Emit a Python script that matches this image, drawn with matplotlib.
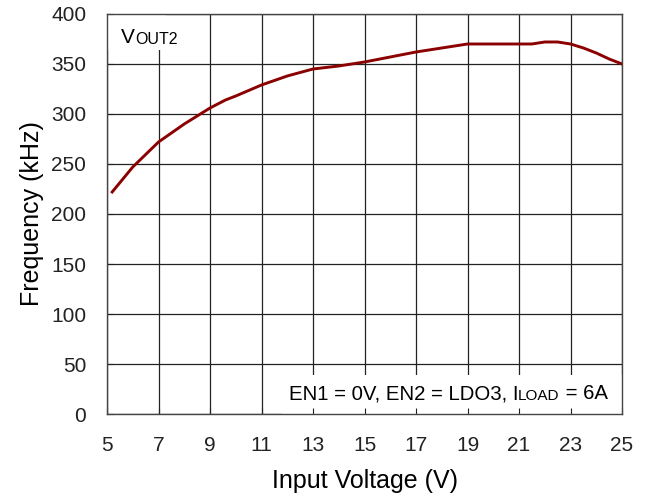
import matplotlib.pyplot as plt
from matplotlib.patches import Rectangle

plt.rcParams['font.family'] = ['Liberation Sans', 'DejaVu Sans']

# datos
vin = [5.2, 6, 7, 8, 9, 9.6, 10, 11, 12, 13, 14, 15, 16, 17, 18, 19,
       20, 21, 21.5, 22, 22.5, 23, 23.5, 24, 24.5, 25]
freq = [222, 247, 272, 290, 306, 314, 318, 329, 338, 345, 348, 352, 357,
        362, 366, 370, 370, 370, 370, 372, 372, 370, 366, 361, 355, 350]

x_ticks = [5, 7, 9, 11, 13, 15, 17, 19, 21, 23, 25]
y_ticks = [0, 50, 100, 150, 200, 250, 300, 350, 400]

fig = plt.figure(figsize=(6.51, 4.96), dpi=100)
ax = fig.add_axes([0.1644, 0.1653, 0.7911, 0.8065])

# rejilla
for xv in x_ticks:
    ax.axvline(xv, color='#222222', lw=0.9, zorder=0.5)
for yv in y_ticks:
    ax.axhline(yv, color='#222222', lw=0.9, zorder=0.5)

# cajas blancas de las etiquetas
ax.add_patch(Rectangle((5, 364), 2.3, 36, facecolor='white', edgecolor='none', zorder=1))
ax.add_patch(Rectangle((11.8, 0), 13.2, 39, facecolor='white', edgecolor='none', zorder=1))

ax.plot(vin, freq, color='#8B0000', lw=2.1, zorder=3)

ax.set_xlim(5, 25)
ax.set_ylim(0, 400)
ax.set_xticks(x_ticks)
ax.set_yticks(y_ticks)
ax.tick_params(direction='in', length=4, labelsize=15, pad=15, colors='#222222')
ax.tick_params(axis='x', pad=16)
for s in ax.spines.values():
    s.set_color('#444444')
    s.set_linewidth(1.0)

ax.set_xlabel('Input Voltage (V)', fontsize=18, labelpad=10)
ax.set_ylabel('Frequency (kHz)', fontsize=18, labelpad=5)

# etiqueta VOUT2
t1 = ax.text(5.55, 371, 'V', fontsize=15, va='baseline', ha='left', zorder=4)
ax.annotate('OUT2', xy=(1, 0), xycoords=t1, fontsize=11.5, va='bottom', ha='left', zorder=4)

# etiqueta de condiciones
t2 = ax.text(12.05, 15, 'EN1 = 0V, EN2 = LDO3, I', fontsize=14.7, va='baseline', ha='left', zorder=4)
t3 = ax.annotate('LOAD', xy=(1, 0), xycoords=t2, fontsize=11, va='bottom', ha='left', zorder=4)
ax.annotate(' = 6A', xy=(1, 0), xycoords=t3, fontsize=14.7, va='bottom', ha='left', zorder=4)

fig.savefig('out.png', dpi=100)
